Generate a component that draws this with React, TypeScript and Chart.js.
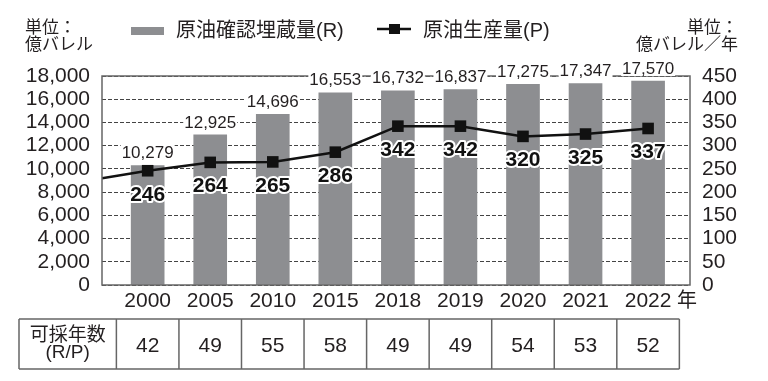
import { useEffect, useRef } from "react";
import { Chart, registerables } from "chart.js";

Chart.register(...registerables);

// ---- data ----
const years = ["2000", "2005", "2010", "2015", "2018", "2019", "2020", "2021", "2022"];
const reserves = [10279, 12925, 14696, 16553, 16732, 16837, 17275, 17347, 17570]; // 億バレル
const production = [246, 264, 265, 286, 342, 342, 320, 325, 337]; // 億バレル／年
const productionAtLeftEdge = 230; // where the production line enters at the left axis
const rpYears = [42, 49, 55, 58, 49, 49, 54, 53, 52];
const leftTickMax = 18000;
const leftTickStep = 2000;
const rightTickMax = 450;
const rightTickStep = 50;

const XMIN = -0.73;
const XMAX = 8.67;

const FONT = "'Liberation Sans', 'Noto Sans CJK JP', sans-serif";
const TEXT = "#231f20";
const BAR = "#8d8e91";
const FRAME = "#666";

const decorPlugin = {
  id: "decor",
  afterDatasetsDraw(chart: any) {
    const ctx = chart.ctx;
    const { left, right, top, bottom } = chart.chartArea;
    const x = chart.scales.x;
    const y = chart.scales.y;
    const y1 = chart.scales.y1;
    ctx.save();

    // plot frame
    ctx.strokeStyle = FRAME;
    ctx.lineWidth = 1.5;
    ctx.strokeRect(left, top, right - left, bottom - top);

    // bar value labels
    ctx.font = `17px ${FONT}`;
    ctx.textAlign = "center";
    ctx.textBaseline = "middle";
    reserves.forEach((v, i) => {
      const px = x.getPixelForValue(i);
      const py = y.getPixelForValue(v) - 13;
      const label = v.toLocaleString("en-US");
      const w = ctx.measureText(label).width + 2;
      ctx.fillStyle = "#fff";
      ctx.fillRect(px - w / 2, py - 8, w, 16);
      ctx.fillStyle = TEXT;
      ctx.fillText(label, px, py + 1);
    });

    // line value labels
    ctx.font = `bold 21px ${FONT}`;
    ctx.lineJoin = "round";
    production.forEach((v, i) => {
      const px = x.getPixelForValue(i);
      const py = y1.getPixelForValue(v) + 24;
      const label = String(v);
      ctx.strokeStyle = "#fff";
      ctx.lineWidth = 4;
      ctx.strokeText(label, px, py);
      ctx.fillStyle = "#111";
      ctx.fillText(label, px, py);
    });

    // 年 after last year label
    ctx.font = `20px ${FONT}`;
    ctx.fillStyle = TEXT;
    ctx.textAlign = "left";
    ctx.fillText("年", 677, 301);

    // units
    ctx.font = `17px ${FONT}`;
    ctx.fillText("単位：", 25, 28);
    ctx.fillText("億バレル", 25, 45);
    ctx.textAlign = "right";
    ctx.fillText("単位：", 738, 28);
    ctx.fillText("億バレル／年", 738, 45);

    // legend
    ctx.textAlign = "left";
    ctx.fillStyle = BAR;
    ctx.fillRect(131, 27, 33, 8);
    ctx.fillStyle = TEXT;
    ctx.font = `20px ${FONT}`;
    ctx.fillText("原油確認埋蔵量(R)", 176, 31);
    ctx.strokeStyle = "#111";
    ctx.lineWidth = 2.5;
    ctx.beginPath();
    ctx.moveTo(377, 29);
    ctx.lineTo(411, 29);
    ctx.stroke();
    ctx.fillStyle = "#111";
    ctx.fillRect(389, 24, 11, 10);
    ctx.fillStyle = TEXT;
    ctx.fillText("原油生産量(P)", 423, 31);

    // R/P table
    const tTop = 319;
    const tBottom = 369;
    const tLeft = 19;
    const tRight = x.getPixelForValue(years.length - 0.5);
    ctx.strokeStyle = FRAME;
    ctx.lineWidth = 1.5;
    ctx.beginPath();
    ctx.moveTo(tLeft, tTop);
    ctx.lineTo(tRight, tTop);
    ctx.moveTo(tLeft, tBottom);
    ctx.lineTo(tRight, tBottom);
    ctx.moveTo(tLeft, tTop);
    ctx.lineTo(tLeft, tBottom);
    for (let i = 0; i <= years.length; i++) {
      const cx = x.getPixelForValue(i - 0.5);
      ctx.moveTo(cx, tTop);
      ctx.lineTo(cx, tBottom);
    }
    ctx.stroke();
    ctx.fillStyle = TEXT;
    ctx.textAlign = "center";
    const headX = (tLeft + x.getPixelForValue(-0.5)) / 2;
    ctx.font = `19px ${FONT}`;
    ctx.fillText("可採年数", headX, 336);
    ctx.fillText("(R/P)", headX, 353);
    ctx.font = `21px ${FONT}`;
    rpYears.forEach((v, i) => {
      ctx.fillText(String(v), x.getPixelForValue(i), 346);
    });

    ctx.restore();
  },
};

export default function App() {
  const ref = useRef<HTMLCanvasElement | null>(null);
  useEffect(() => {
    if (!ref.current) return;
    const chart = new Chart(ref.current, {
      type: "bar",
      data: {
        datasets: [
          {
            type: "line",
            label: "原油生産量(P)",
            data: [
              { x: XMIN, y: productionAtLeftEdge },
              ...production.map((v, i) => ({ x: i, y: v })),
            ],
            yAxisID: "y1",
            borderColor: "#111",
            borderWidth: 2.5,
            backgroundColor: "#111",
            pointStyle: "rect",
            pointRadius: (c: any) => (c.dataIndex === 0 ? 0 : 8.2),
            pointBackgroundColor: "#111",
            pointBorderWidth: 0,
            tension: 0,
            order: 0,
          } as any,
          {
            type: "bar",
            label: "原油確認埋蔵量(R)",
            data: reserves.map((v, i) => ({ x: i, y: v })),
            yAxisID: "y",
            backgroundColor: BAR,
            barThickness: 33,
            order: 1,
          } as any,
        ],
      },
      options: {
        animation: false,
        responsive: true,
        maintainAspectRatio: false,
        layout: { padding: { top: 76, left: 0, right: 0, bottom: 0 } },
        plugins: { legend: { display: false }, tooltip: { enabled: false } },
        scales: {
          x: {
            type: "linear",
            offset: false,
            min: XMIN,
            max: XMAX,
            afterBuildTicks: (s: any) => {
              s.ticks = years.map((_, i) => ({ value: i }));
            },
            afterFit: (s: any) => {
              s.height = 96;
            },
            grid: { display: false, drawTicks: false },
            border: { display: false },
            ticks: {
              autoSkip: false,
              maxRotation: 0,
              padding: 4,
              color: TEXT,
              font: { family: FONT, size: 21 },
              callback: (v: any) => years[v] ?? "",
            },
          },
          y: {
            position: "left",
            min: 0,
            max: leftTickMax,
            afterFit: (s: any) => {
              s.width = 102;
            },
            grid: { color: "#444", lineWidth: 1, drawTicks: false },
            border: { display: false, dash: [4, 2] },
            ticks: {
              autoSkip: false,
              stepSize: leftTickStep,
              padding: 12,
              color: TEXT,
              font: { family: FONT, size: 21 },
              callback: (v: any) => Number(v).toLocaleString("en-US"),
            },
          },
          y1: {
            position: "right",
            min: 0,
            max: rightTickMax,
            afterFit: (s: any) => {
              s.width = 78;
            },
            grid: { display: false, drawTicks: false },
            border: { display: false },
            ticks: {
              autoSkip: false,
              stepSize: rightTickStep,
              padding: 12,
              color: TEXT,
              font: { family: FONT, size: 21 },
            },
          },
        },
      } as any,
      plugins: [decorPlugin],
    });
    return () => chart.destroy();
  }, []);
  return (
    <div style={{ position: "fixed", left: 0, top: 0, width: 768, height: 381, background: "#fff" }}>
      <canvas ref={ref} />
    </div>
  );
}
